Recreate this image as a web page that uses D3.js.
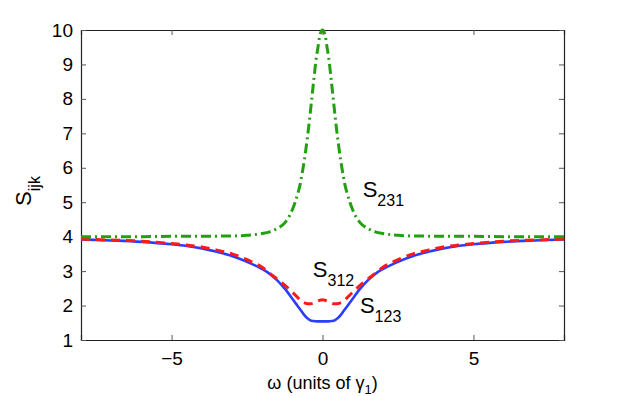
<!DOCTYPE html>
<html><head><meta charset="utf-8">
<script src="https://cdn.jsdelivr.net/npm/d3@7"></script>
<style>body{margin:0;background:#fff}svg{display:block}text{font-family:"Liberation Sans",Arial,sans-serif}</style>
</head><body>
<script>
const omega = [-8,-7,-6,-5,-4.5,-4,-3.5,-3,-2.5,-2,-1.75,-1.5,-1.25,-1,-0.8,-0.75,-0.7,-0.6,-0.5,-0.45,-0.4,-0.3,-0.2,-0.15,-0.1,0,0.1,0.15,0.2,0.3,0.4,0.45,0.5,0.6,0.7,0.75,0.8,1,1.25,1.5,1.75,2,2.5,3,3.5,4,4.5,5,6,7,8];
const s123 = [3.92,3.89,3.85,3.78,3.73,3.66,3.56,3.44,3.27,3.06,2.92,2.73,2.49,2.20,1.96,1.90,1.84,1.72,1.63,1.60,1.57,1.55,1.54,1.54,1.54,1.54,1.54,1.54,1.54,1.55,1.57,1.60,1.63,1.72,1.84,1.90,1.96,2.20,2.49,2.73,2.92,3.06,3.27,3.44,3.56,3.66,3.73,3.78,3.85,3.89,3.92];
const s312 = [3.93,3.90,3.87,3.80,3.755,3.70,3.61,3.50,3.33,3.11,2.94,2.77,2.59,2.39,2.21,2.16,2.12,2.08,2.055,2.05,2.05,2.07,2.11,2.13,2.15,2.17,2.15,2.13,2.11,2.07,2.05,2.05,2.055,2.08,2.12,2.16,2.21,2.39,2.59,2.77,2.94,3.11,3.33,3.50,3.61,3.70,3.755,3.80,3.87,3.90,3.93];
const s231 = [4.00,4.00,4.00,4.01,4.01,4.01,4.015,4.02,4.04,4.09,4.14,4.24,4.40,4.78,5.31,5.48,5.71,6.23,6.88,7.24,7.64,8.46,9.23,9.50,9.79,10.0,9.79,9.50,9.23,8.46,7.64,7.24,6.88,6.23,5.71,5.48,5.31,4.78,4.40,4.24,4.14,4.09,4.04,4.02,4.015,4.01,4.01,4.01,4.00,4.00,4.00];
const xTicks = [-5,0,5];
const yTicks = [1,2,3,4,5,6,7,8,9,10];

const W=623,H=396;
const m={l:81,r:59,t:30,b:56};
const svg=d3.select("body").append("svg").attr("width",W).attr("height",H);
const x=d3.scaleLinear().domain([-8,8]).range([m.l,W-m.r]);
const y=d3.scaleLinear().domain([1,10]).range([H-m.b,m.t]);
const pw=W-m.l-m.r, ph=H-m.t-m.b;

svg.append("clipPath").attr("id","c").append("rect").attr("x",m.l).attr("y",m.t-2).attr("width",pw).attr("height",ph+2);

const fmt=d=>d<0?"\u2212"+Math.abs(d):String(d);
const axB=svg.append("g").attr("transform",`translate(0,${H-m.b})`).call(d3.axisBottom(x).tickValues(xTicks).tickSize(-5).tickPadding(12).tickFormat(fmt));
const axT=svg.append("g").attr("transform",`translate(0,${m.t})`).call(d3.axisTop(x).tickValues(xTicks).tickSize(-5).tickFormat(""));
const axL=svg.append("g").attr("transform",`translate(${m.l},0)`).call(d3.axisLeft(y).tickValues(yTicks).tickSize(-5).tickPadding(8).tickFormat(d3.format("d")));
const axR=svg.append("g").attr("transform",`translate(${W-m.r},0)`).call(d3.axisRight(y).tickValues(yTicks).tickSize(-5).tickFormat(""));
[axB,axT,axL,axR].forEach(a=>{
  a.select(".domain").attr("stroke","#222").attr("stroke-width",1.2);
  a.selectAll(".tick line").attr("stroke","#555");
  a.selectAll("text").attr("font-size",19).attr("fill","#000").attr("font-family","Liberation Sans, Arial, sans-serif");
});

const line=(arr)=>d3.line().x((d,i)=>x(omega[i])).y(d=>y(d)).curve(d3.curveMonotoneX)(arr);
const g=svg.append("g").attr("clip-path","url(#c)");
g.append("path").attr("d",line(s123)).attr("fill","none").attr("stroke","#2b3dff").attr("stroke-width",2.6);
g.append("path").attr("d",line(s312)).attr("fill","none").attr("stroke","#ff1a1a").attr("stroke-width",3).attr("stroke-dasharray","9,6");
g.append("path").attr("d",line(s231)).attr("fill","none").attr("stroke","#22a010").attr("stroke-width",3).attr("stroke-dasharray","10,4,2,4");

function sLabel(px,py,sub){
  const t=svg.append("text").attr("x",px).attr("y",py).attr("font-size",22).attr("fill","#000");
  t.append("tspan").text("S");
  t.append("tspan").attr("dy",9).attr("font-size",16).text(sub);
}
sLabel(x(1.33),y(5.14),"231");
sLabel(x(-0.32),y(2.83),"312");
sLabel(x(1.24),y(1.78),"123");

// y label
const yl=svg.append("text").attr("transform",`translate(31,191) rotate(-90)`).attr("font-size",22).attr("text-anchor","middle");
yl.append("tspan").text("S");
yl.append("tspan").attr("dy",9).attr("font-size",16).text("ijk");

// x label
const xl=svg.append("text").attr("x",x(0)).attr("y",389).attr("font-size",18).attr("text-anchor","middle");
xl.append("tspan").text("\u03c9 (units of \u03b3");
xl.append("tspan").attr("dy",5).attr("font-size",13).text("1");
xl.append("tspan").attr("dy",-5).text(")");
</script>
</body></html>
